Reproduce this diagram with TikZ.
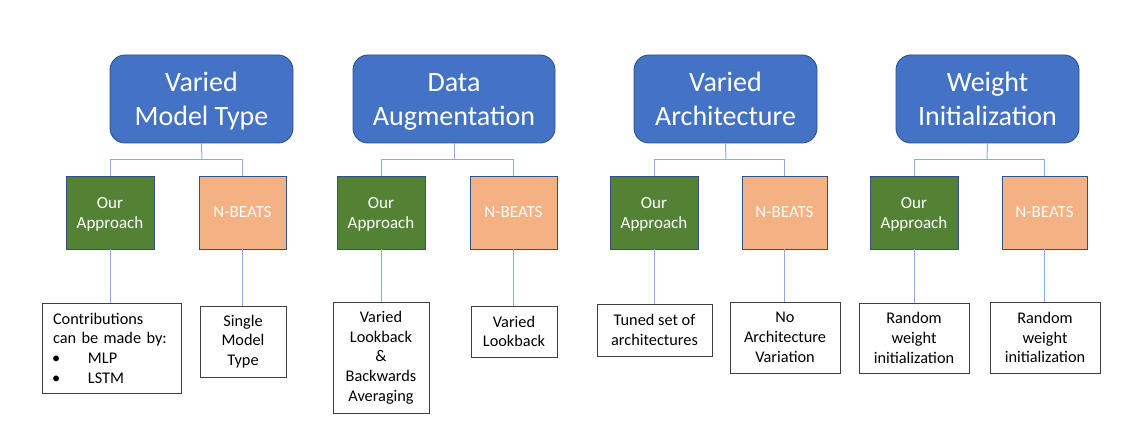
\documentclass[tikz,border=0pt]{standalone}
\usepackage{fontspec}
\setmainfont{Carlito}
\definecolor{topfill}{HTML}{4472C4}
\definecolor{topdraw}{HTML}{2F528F}
\definecolor{greenfill}{HTML}{548235}
\definecolor{orangefill}{HTML}{F4B183}
\definecolor{linkc}{HTML}{8FAADC}
\definecolor{leafdraw}{HTML}{404040}
\newcommand{\toptext}[2]{\rule{0pt}{28pt}#1\\#2\rule[-8pt]{0pt}{8pt}}
\newcommand{\midtext}[2]{\rule{0pt}{17pt}#1\\#2\rule[-4pt]{0pt}{4pt}}
\begin{document}
\begin{tikzpicture}[x=1pt,y=-1pt,
  topbox/.style={draw=topdraw,fill=topfill,line width=0.9pt,rounded corners=15pt,text=white,
    inner sep=0pt,outer sep=0pt,align=center,font=\fontsize{28}{34}\selectfont},
  oursbox/.style={draw=topdraw,fill=greenfill,line width=0.9pt,text=white,
    inner sep=0pt,outer sep=0pt,align=center,font=\fontsize{17}{20}\selectfont},
  nbbox/.style={draw=topdraw,fill=orangefill,line width=0.9pt,text=white,
    inner sep=0pt,outer sep=0pt,align=center,font=\fontsize{17}{20}\selectfont},
  leafbox/.style={draw=leafdraw,fill=white,line width=0.8pt,text=black,
    inner sep=0pt,outer sep=0pt,align=center,font=\fontsize{16.3}{19.7}\selectfont},
  link/.style={draw=linkc,line width=1pt}]
\useasboundingbox (0,0) rectangle (1140,443);
\fill[white] (0,0) rectangle (1140,443);
% Group 1
\node[topbox,minimum width=183pt,minimum height=88pt] (T1) at (201.5,99) {\toptext{Varied}{Model Type}};
\node[oursbox,minimum width=88pt,minimum height=73pt] (A1) at (110,212.5) {\midtext{Our}{Approach}};
\node[nbbox,minimum width=87pt,minimum height=73pt] (N1) at (242.5,212.5) {N-BEATS};
\node[leafbox,minimum width=139pt,minimum height=90pt,text width=117pt,inner xsep=11pt,align=left] (L1) at (111.5,348)
  {Contributions\\can be made by:\\\makebox[35pt][l]{\hspace{-1pt}•}MLP\\\makebox[35pt][l]{\hspace{-1pt}•}LSTM};
\node[leafbox,minimum width=86pt,minimum height=71pt] (M1) at (243,341.5) {Single\\Model\\Type};
% Group 2
\node[topbox,minimum width=202pt,minimum height=88pt] (T2) at (454,99) {\toptext{Data}{Augmentation}};
\node[oursbox,minimum width=88pt,minimum height=73pt] (A2) at (381,212.5) {\midtext{Our}{Approach}};
\node[nbbox,minimum width=87pt,minimum height=73pt] (N2) at (513.5,212.5) {N-BEATS};
\node[leafbox,minimum width=96pt,minimum height=111pt] (L2) at (381,357.5) {Varied\\Lookback\\\&\\Backwards\\Averaging};
\node[leafbox,minimum width=86pt,minimum height=51pt] (M2) at (514,331.5) {Varied\\Lookback};
% Group 3
\node[topbox,minimum width=183pt,minimum height=88pt] (T3) at (725.5,99) {\toptext{Varied}{Architecture}};
\node[oursbox,minimum width=88pt,minimum height=73pt] (A3) at (654,212.5) {\midtext{Our}{Approach}};
\node[nbbox,minimum width=85pt,minimum height=73pt] (N3) at (784.5,212.5) {N-BEATS};
\node[leafbox,minimum width=115pt,minimum height=52pt] (L3) at (654.5,330) {Tuned set of\\architectures};
\node[leafbox,minimum width=110pt,minimum height=71pt] (M3) at (785,337.5) {No\\Architecture\\Variation};
% Group 4
\node[topbox,minimum width=183pt,minimum height=88pt] (T4) at (987.5,99) {\toptext{Weight}{Initialization}};
\node[oursbox,minimum width=88pt,minimum height=73pt] (A4) at (914,212.5) {\midtext{Our}{Approach}};
\node[nbbox,minimum width=85pt,minimum height=73pt] (N4) at (1044.5,212.5) {N-BEATS};
\node[leafbox,minimum width=110pt,minimum height=70pt] (L4) at (914,338) {Random\\weight\\initialization};
\node[leafbox,minimum width=110pt,minimum height=71pt] (M4) at (1045,337.5) {Random\\weight\\initialization};
% connectors
\foreach \i/\bx in {1/202,2/454,3/726,4/987}{
  \coordinate (b\i) at (\bx,160);
  \draw[link] (T\i.south) -- (b\i);
  \draw[link] (b\i) -| (A\i.north);
  \draw[link] (b\i) -| (N\i.north);
  \draw[link] (A\i.south) -- (A\i.south |- L\i.north);
  \draw[link] (N\i.south) -- (N\i.south |- M\i.north);
}
\end{tikzpicture}
\end{document}
